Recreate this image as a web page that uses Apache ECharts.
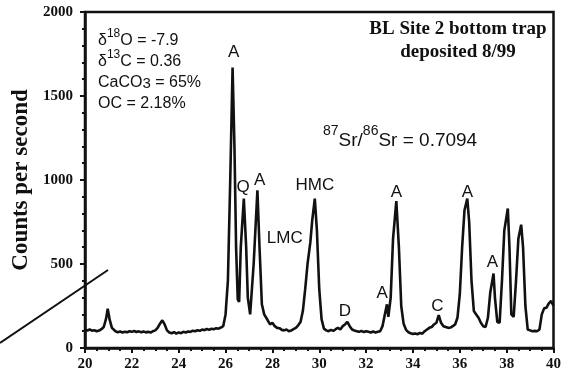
<!DOCTYPE html>
<html>
<head>
<meta charset="utf-8">
<script src="https://cdn.jsdelivr.net/npm/echarts@6/dist/echarts.min.js"></script>
<style>
  html, body { margin: 0; padding: 0; background: #fff; }
  #chart { width: 564px; height: 374px; }
</style>
</head>
<body>
<div id="chart"></div>
<script>
// 2-theta positions and counts
const twoTheta = [
  20.0, 20.1, 20.2, 20.3, 20.4, 20.5, 20.6, 20.7, 20.8, 20.9, 20.97, 21.05, 21.15, 21.3, 21.4,
  21.5, 21.6, 21.7, 21.8, 21.9, 22.0, 22.1, 22.2, 22.3, 22.4, 22.5, 22.6, 22.7, 22.8, 22.9,
  23.0, 23.1, 23.2, 23.3, 23.4, 23.5, 23.6, 23.7, 23.8, 23.9, 24.0, 24.1, 24.2, 24.3, 24.4,
  24.5, 24.6, 24.7, 24.8, 24.9, 25.0, 25.1, 25.2, 25.3, 25.4, 25.5, 25.6, 25.7, 25.8, 25.9,
  26.0, 26.1, 26.2, 26.3, 26.38, 26.45, 26.52, 26.58, 26.65, 26.78, 26.88, 26.95, 27.05, 27.1,
  27.2, 27.36, 27.45, 27.55, 27.65, 27.8, 27.9, 28.0, 28.1, 28.2, 28.3, 28.4, 28.5, 28.6, 28.7,
  28.8, 28.9, 29.0, 29.1, 29.2, 29.3, 29.4, 29.5, 29.62, 29.7, 29.81, 29.9, 30.0, 30.1, 30.2,
  30.3, 30.4, 30.5, 30.6, 30.7, 30.8, 30.9, 31.0, 31.1, 31.2, 31.3, 31.4, 31.5, 31.6, 31.7,
  31.8, 31.9, 32.0, 32.1, 32.2, 32.3, 32.4, 32.5, 32.6, 32.7, 32.8, 32.89, 32.95, 33.05, 33.15,
  33.29, 33.4, 33.5, 33.6, 33.7, 33.8, 33.9, 34.0, 34.1, 34.2, 34.3, 34.4, 34.5, 34.6, 34.7,
  34.8, 34.9, 35.0, 35.1, 35.2, 35.3, 35.4, 35.5, 35.6, 35.7, 35.8, 35.9, 36.0, 36.1, 36.2,
  36.32, 36.4, 36.5, 36.6, 36.7, 36.8, 36.9, 37.0, 37.1, 37.2, 37.3, 37.44, 37.5, 37.6, 37.7,
  37.8, 37.9, 38.05, 38.12, 38.2, 38.3, 38.4, 38.5, 38.62, 38.7, 38.8, 38.9, 39.0, 39.1, 39.2,
  39.3, 39.4, 39.5, 39.6, 39.7, 39.8, 39.9, 39.95, 40.0
];
const counts = [
  108, 104, 110, 103, 106, 100, 104, 112, 125, 175, 234, 170, 120, 100, 94,
  98, 92, 97, 94, 100, 96, 101, 95, 99, 94, 98, 93, 96, 92, 100,
  105, 120, 145, 165, 140, 105, 92, 88, 95, 86, 93, 88, 96, 92, 98,
  96, 103, 100, 106, 102, 110, 106, 113, 108, 115, 112, 118, 115, 122, 130,
  200, 400, 1000, 1670, 1200, 600, 290, 274, 600, 889, 600, 300, 200, 195,
  500, 938, 600, 260, 200, 165, 140, 150, 130, 120, 118, 108, 105, 110, 100,
  104, 112, 120, 135, 155, 220, 350, 500, 630, 760, 889, 700, 350, 170, 115,
  105, 100, 108, 102, 112, 120, 110, 130, 140, 155, 130, 110, 104, 100, 96,
  102, 95, 100, 96, 92, 98, 92, 96, 100, 130, 200, 260, 185, 300, 650,
  875, 600, 250, 145, 110, 95, 88, 84, 86, 82, 90, 85, 100, 110, 120,
  125, 140, 150, 195, 150, 130, 125, 120, 122, 130, 140, 180, 320, 600, 820,
  889, 750, 400, 220, 200, 180, 150, 130, 125, 180, 330, 443, 300, 155, 150,
  400, 700, 830, 600, 200, 185, 400, 650, 734, 600, 250, 110, 105, 100, 102,
  100, 110, 200, 236, 240, 265, 280, 290, 250
];

// mineral labels: A aragonite, Q quartz, LMC/HMC calcite, D dolomite, C
const peakNames = ['A', 'Q', 'A', 'LMC', 'HMC', 'D', 'A', 'A', 'C', 'A', 'A'];
const peakX = [26.35, 26.75, 27.46, 28.53, 29.81, 31.09, 32.69, 33.29, 35.04, 36.32, 37.39];
const peakY = [1760, 958, 998, 653, 968, 220, 324, 929, 248, 929, 512];

const xTicks = { min: 20, max: 40, step: 2 };
const yTicks = { min: 0, max: 2000, step: 500 };

const chart = echarts.init(document.getElementById('chart'));

const sans = 'Liberation Sans, Arial, sans-serif';
const serif = 'Liberation Serif, Times New Roman, serif';

const axisCommon = {
  axisLine: { show: true, onZero: false, lineStyle: { color: '#111', width: 2.5 } },
  axisTick: { show: true, inside: false, length: 5, lineStyle: { color: '#111', width: 2 } },
  minorTick: { show: true, length: 3, lineStyle: { color: '#111', width: 2 } },
  splitLine: { show: false },
  axisLabel: {
    color: '#111', fontFamily: serif, fontWeight: 'bold', fontSize: 15,
    formatter: v => String(v)
  }
};

const option = {
  animation: false,
  backgroundColor: '#fff',
  grid: {
    left: 85, right: 9, top: 12, bottom: 26,
    show: true, borderColor: '#111', borderWidth: 2.5
  },
  xAxis: Object.assign({}, axisCommon, {
    type: 'value',
    min: xTicks.min, max: xTicks.max, interval: xTicks.step,
    minorTick: Object.assign({}, axisCommon.minorTick, { splitNumber: 4 }),
    axisLabel: Object.assign({}, axisCommon.axisLabel, { margin: 9 })
  }),
  yAxis: Object.assign({}, axisCommon, {
    type: 'value',
    min: yTicks.min, max: yTicks.max, interval: yTicks.step,
    minorTick: Object.assign({}, axisCommon.minorTick, { splitNumber: 5 }),
    axisLabel: Object.assign({}, axisCommon.axisLabel, { margin: 12 }),
    name: 'Counts per second',
    nameLocation: 'middle',
    nameGap: 50,
    nameTextStyle: { color: '#111', fontFamily: serif, fontWeight: 'bold', fontSize: 23 }
  }),
  series: [
    {
      type: 'line',
      data: twoTheta.map((t, i) => [t, counts[i]]),
      showSymbol: false,
      lineStyle: { color: '#111', width: 2.6 },
      z: 3
    },
    {
      type: 'scatter',
      data: peakNames.map((n, i) => ({ name: n, value: [peakX[i], peakY[i]] })),
      symbolSize: 0,
      silent: true,
      itemStyle: { opacity: 1 },
      label: {
        show: true,
        position: 'inside',
        formatter: p => p.name,
        color: '#111',
        opacity: 1,
        fontFamily: sans,
        fontSize: 17
      },
      z: 4
    }
  ],
  graphic: [
    {
      type: 'line',
      shape: { x1: 0, y1: 343, x2: 108, y2: 270 },
      style: { stroke: '#111', lineWidth: 2 },
      z: 10
    },
    {
      type: 'text',
      left: 98, top: 28,
      style: {
        text: '{m|δ}{s|18}{m|O = -7.9}\n{m|δ}{s|13}{m|C = 0.36}\n{m|CaCO}{b|3}{m| = 65%}\n{m|OC = 2.18%}',
        fill: '#111',
        rich: {
          m: { fontFamily: sans, fontSize: 16, lineHeight: 21, verticalAlign: 'bottom', fill: '#111' },
          s: { fontFamily: sans, fontSize: 12, lineHeight: 12, verticalAlign: 'top', fill: '#111' },
          b: { fontFamily: sans, fontSize: 15, lineHeight: 10, verticalAlign: 'bottom', fill: '#111' }
        }
      },
      z: 10
    },
    {
      type: 'text',
      left: 323, top: 124,
      style: {
        text: '{s|87}{m|Sr/}{s|86}{m|Sr = 0.7094}',
        fill: '#111',
        rich: {
          m: { fontFamily: sans, fontSize: 19, lineHeight: 26, verticalAlign: 'bottom', fill: '#111' },
          s: { fontFamily: sans, fontSize: 14, lineHeight: 14, verticalAlign: 'top', fill: '#111' }
        }
      },
      z: 10
    },
    {
      type: 'text',
      x: 458, y: 18,
      style: {
        text: 'BL Site 2 bottom trap\ndeposited 8/99',
        fill: '#111',
        font: 'bold 19px ' + serif,
        lineHeight: 23,
        align: 'center',
        verticalAlign: 'top'
      },
      z: 10
    }
  ]
};

chart.setOption(option);
</script>
</body>
</html>
